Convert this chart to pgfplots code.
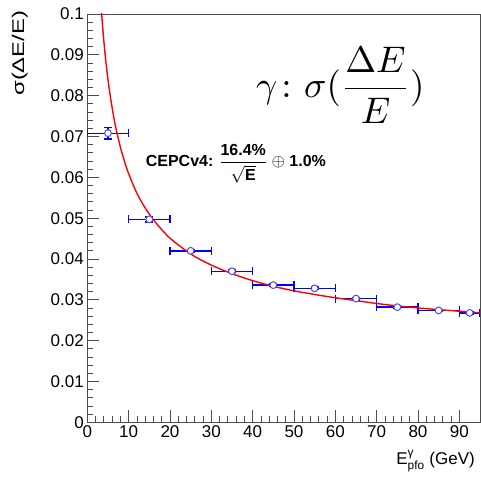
\documentclass[border=0pt]{standalone}
\usepackage{pgfplots}
\pgfplotsset{compat=1.18}
\usepackage{pgfplotstable}
\usepackage{amsmath}
\usepackage{graphicx}
\usepackage{fontspec}
\setmainfont{Liberation Sans}

\pgfplotstableread{
x y ex ey
5 0.0708 5 0.0014
15 0.0497 5 0.0006
25 0.0420 5 0.0003
35 0.0370 5 0.0003
45 0.0336 5 0.0003
55 0.0328 5 0.0003
65 0.0303 5 0.0003
75 0.0282 5 0.0003
85 0.0274 5 0.0003
92.5 0.0268 2.5 0.0003
}\datatable

\begin{document}
\begin{tikzpicture}
\begin{axis}[
  scale only axis, width=392.7pt, height=408.3pt,
  xmin=0, xmax=95, ymin=0, ymax=0.1,
  xtick={0,10,20,30,40,50,60,70,80,90},
  ytick={0,0.01,0.02,0.03,0.04,0.05,0.06,0.07,0.08,0.09,0.1},
  minor x tick num=4, minor y tick num=4,
  scaled y ticks=false,
  yticklabel style={/pgf/number format/fixed, /pgf/number format/precision=2},
  /pgf/number format/assume math mode=true,
  tick align=inside, xtick pos=bottom, ytick pos=left,
  major tick length=12pt, minor tick length=6pt,
  tick style={black!70, line width=0.7pt},
  axis line style={black!70, line width=0.9pt},
  ticklabel style={font=\fontsize{17}{20}\selectfont},
  clip=true,
]
\addplot[only marks, color=blue, mark=*, mark size=3.4pt,
  mark options={fill=white, draw=blue!70, line width=1pt},
  error bars/x dir=both, error bars/x explicit,
  error bars/y dir=both, error bars/y explicit,
  error bars/error bar style={color=blue, solid, line width=1.4pt},
  error bars/error mark options={rotate=90, color=blue, mark size=4pt, line width=1.4pt}]
  table[x=x, y=y, x error=ex, y error=ey] {\datatable};
\addplot[red, line width=1.4pt, smooth] coordinates {
(3.4,0.1010)(3.6,0.0983)(4,0.0934)(4.5,0.0883)(5,0.0840)(5.5,0.0803)(6,0.0771)(6.5,0.0742)(7,0.0717)(8,0.0674)(9,0.0639)(10,0.0609)(12,0.0561)(14,0.0525)(16,0.0496)(18,0.0472)(20,0.0451)(23,0.0427)(26,0.0406)(30,0.0385)(35,0.0364)(40,0.0347)(45,0.0333)(50,0.0322)(55,0.0313)(60,0.0305)(65,0.0298)(70,0.0291)(75,0.0285)(80,0.0280)(85,0.0276)(90,0.0272)(95,0.0268)};
\node[anchor=center] at (axis cs:61.2,0.0825)
  {\scalebox{3.7}{$\displaystyle\gamma\colon\sigma(\frac{\Delta E}{E})$}};
\node[anchor=west, font=\fontsize{16}{19}\selectfont\bfseries] at (axis cs:13.3,0.0634)
  {CEPCv4: $\dfrac{\text{\bfseries 16.4\%}}{\sqrt{\text{\bfseries E}}}$ $\oplus$ 1.0\%};
\end{axis}
\node[rotate=90, anchor=south east, font=\fontsize{17}{20}\selectfont] at (-56pt,415pt)
  {\scalebox{1.4}[1]{σ(ΔE/E)}};
\node[anchor=north east, font=\fontsize{17}{20}\selectfont] at (391pt,-24pt)
  {E$^{\text{γ}}_{\text{pfo}}$ (GeV)};
\pgfresetboundingbox
\useasboundingbox (-87.3pt,-54.7pt) rectangle (393.7pt,422.3pt);
\end{tikzpicture}
\end{document}
